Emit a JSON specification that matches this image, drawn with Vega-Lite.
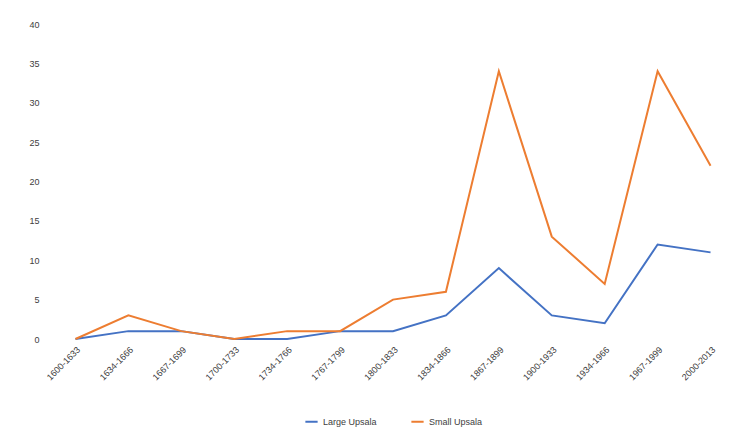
{
  "$schema": "https://vega.github.io/schema/vega-lite/v6.json",
  "width": 750,
  "height": 440,
  "autosize": {"type": "fit", "contains": "padding"},
  "padding": {"left": 28, "right": 13, "top": 20, "bottom": 13},
  "background": "white",
  "config": {
    "view": {"stroke": null},
    "font": "Liberation Sans",
    "axis": {"labelColor": "#404040", "labelFontSize": 9, "grid": false, "domain": false, "ticks": false},
    "legend": {"layout": {"bottom": {"anchor": "middle"}}}
  },
  "data": {
    "values": [
      {"period": "1600-1633", "series": "Large Upsala", "value": 0},
      {"period": "1634-1666", "series": "Large Upsala", "value": 1},
      {"period": "1667-1699", "series": "Large Upsala", "value": 1},
      {"period": "1700-1733", "series": "Large Upsala", "value": 0},
      {"period": "1734-1766", "series": "Large Upsala", "value": 0},
      {"period": "1767-1799", "series": "Large Upsala", "value": 1},
      {"period": "1800-1833", "series": "Large Upsala", "value": 1},
      {"period": "1834-1866", "series": "Large Upsala", "value": 3},
      {"period": "1867-1899", "series": "Large Upsala", "value": 9},
      {"period": "1900-1933", "series": "Large Upsala", "value": 3},
      {"period": "1934-1966", "series": "Large Upsala", "value": 2},
      {"period": "1967-1999", "series": "Large Upsala", "value": 12},
      {"period": "2000-2013", "series": "Large Upsala", "value": 11},
      {"period": "1600-1633", "series": "Small Upsala", "value": 0},
      {"period": "1634-1666", "series": "Small Upsala", "value": 3},
      {"period": "1667-1699", "series": "Small Upsala", "value": 1},
      {"period": "1700-1733", "series": "Small Upsala", "value": 0},
      {"period": "1734-1766", "series": "Small Upsala", "value": 1},
      {"period": "1767-1799", "series": "Small Upsala", "value": 1},
      {"period": "1800-1833", "series": "Small Upsala", "value": 5},
      {"period": "1834-1866", "series": "Small Upsala", "value": 6},
      {"period": "1867-1899", "series": "Small Upsala", "value": 34},
      {"period": "1900-1933", "series": "Small Upsala", "value": 13},
      {"period": "1934-1966", "series": "Small Upsala", "value": 7},
      {"period": "1967-1999", "series": "Small Upsala", "value": 34},
      {"period": "2000-2013", "series": "Small Upsala", "value": 22}
    ]
  },
  "mark": {"type": "line", "strokeWidth": 2},
  "encoding": {
    "x": {"field": "period", "type": "ordinal", "title": null, "sort": null,
          "scale": {"type": "point", "padding": 0.5},
          "axis": {"labelAngle": -45, "labelPadding": 6}},
    "y": {"field": "value", "type": "quantitative", "title": null,
          "scale": {"domain": [0, 40]}, "axis": {"values": [0,5,10,15,20,25,30,35,40], "labelPadding": 10}},
    "color": {"field": "series", "type": "nominal",
              "scale": {"domain": ["Large Upsala", "Small Upsala"], "range": ["#4472C4", "#ED7D31"]},
              "legend": {"orient": "bottom", "direction": "horizontal", "title": null, "symbolType": "stroke",
                         "symbolSize": 150, "symbolStrokeWidth": 2, "labelFontSize": 9, "labelColor": "#404040", "columnPadding": 30, "offset": 32}}
  }
}
